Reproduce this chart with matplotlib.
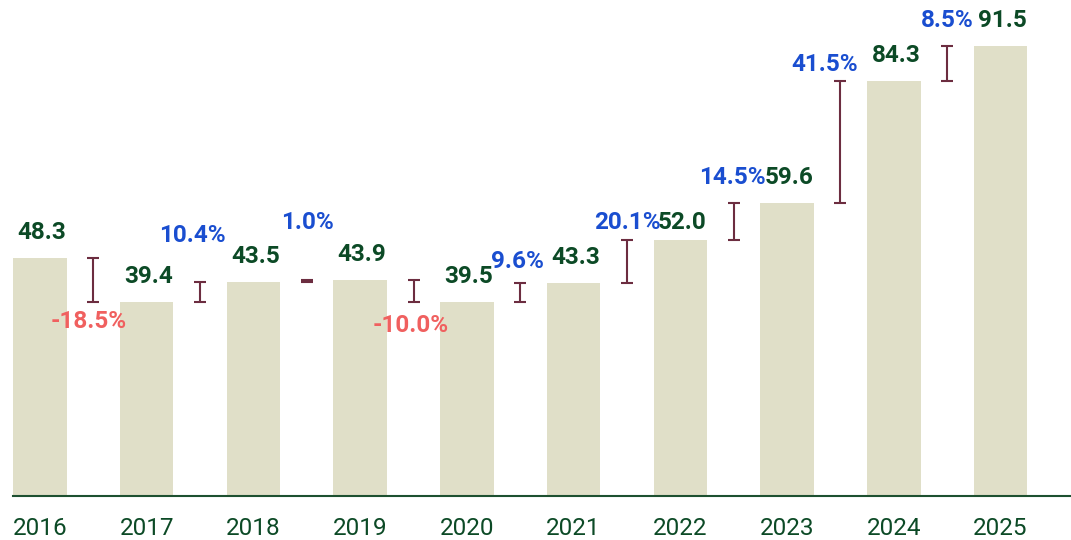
import matplotlib.pyplot as plt

years = ["2016", "2017", "2018", "2019", "2020", "2021", "2022", "2023", "2024", "2025"]
values = [48.3, 39.4, 43.5, 43.9, 39.5, 43.3, 52.0, 59.6, 84.3, 91.5]
changes = ["-18.5%", "10.4%", "1.0%", "-10.0%", "9.6%", "20.1%", "14.5%", "41.5%", "8.5%"]

# label nudges (pixels) so texts don't collide, as in the original layout
pct_nudge = [(-5, -19.5), (-7.5, 46.7), (0.5, 57.5), (-2.5, -23.5), (-3, 21.5),
             (0, 18), (-1, 25), (-16, 17), (0, 25.7)]
val_nudge = [25.5] * len(values)
val_nudge[6] = 18

BAR = "#e0dfc8"
GREEN = "#0c4a26"
BLUE = "#1a4ed0"
RED = "#f0605f"
ERR = "#6c2d40"

plt.rcParams['font.family'] = ['Roboto', 'DejaVu Sans']

fig = plt.figure(figsize=(10.71, 5.4), dpi=100)
ax = fig.add_axes([0.0121, 0.0815, 0.9869, 0.9185])

x = list(range(len(years)))
ax.bar(x, values, width=0.5, color=BAR, zorder=2)

for i, v in enumerate(values):
    ax.annotate(f"{v:.1f}", xy=(i, v), xytext=(2, val_nudge[i]), textcoords='offset pixels',
                ha='center', va='center', fontsize=17.5, fontweight='bold', color=GREEN)

for i, txt in enumerate(changes):
    a, b = values[i], values[i + 1]
    lo, hi = min(a, b), max(a, b)
    mid = i + 0.5
    ax.errorbar([mid], [(lo + hi) / 2], yerr=[[(hi - lo) / 2], [(hi - lo) / 2]],
                fmt='none', ecolor=ERR, elinewidth=1.5, capsize=4.3, capthick=1.5, zorder=3)
    dx, dy = pct_nudge[i]
    neg = txt.startswith('-')
    ax.annotate(txt, xy=(mid, lo if neg else hi), xytext=(dx, dy), textcoords='offset pixels',
                ha='center', va='center', fontsize=17.5, fontweight='bold',
                color=RED if neg else BLUE)

ax.set_xlim(-0.253, 9.65)
ax.set_ylim(0, 100.8)
ax.set_xticks(x)
ax.set_xticklabels(years, fontsize=17.5, color=GREEN)
ax.tick_params(axis='x', length=0, pad=15)
ax.set_yticks([])
for s in ['top', 'right', 'left']:
    ax.spines[s].set_visible(False)
ax.spines['bottom'].set_color("#1d5030")
ax.spines['bottom'].set_linewidth(1.5)
ax.spines['bottom'].set_zorder(4)

fig.savefig("out.png", dpi=100)
